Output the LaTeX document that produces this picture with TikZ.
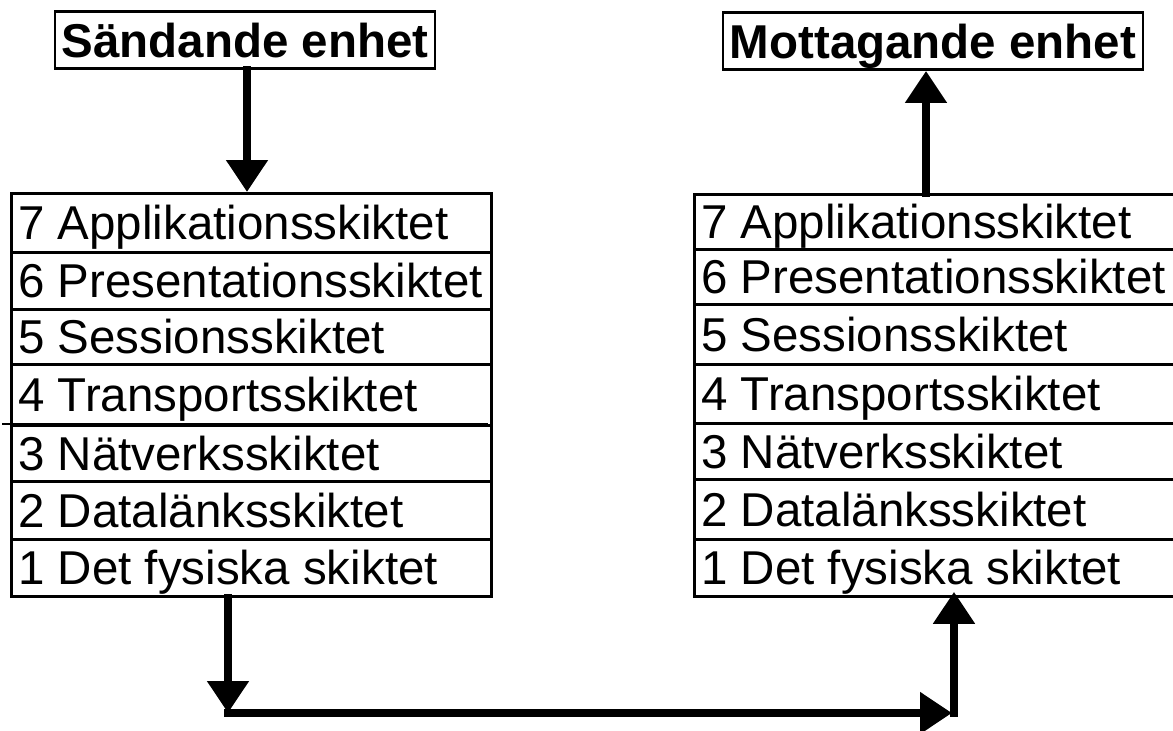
\documentclass[tikz,border=0pt]{standalone}
\usepackage{fontspec}
\setmainfont{Liberation Sans}
\usetikzlibrary{arrows.meta,calc}
\tikzset{
  rowbox/.style={draw, line width=2.8pt, inner sep=0pt, anchor=north west},
  lbl/.style={anchor=west, inner sep=0pt, text height=34pt, text depth=0pt,
    font=\fontsize{47.5}{56}\selectfont},
  title/.style={draw, line width=2.8pt, inner sep=0pt, text height=34pt, text depth=0pt,
    minimum height=57pt, font=\fontsize{47.5}{56}\selectfont\bfseries},
  arr/.style={line width=8pt, line cap=rect, -{Triangle[width=40pt,length=32pt]}},
}
\begin{document}
\begin{tikzpicture}[x=1pt,y=-1pt]
\useasboundingbox (0,0) rectangle (1173,731);

% titles
\node[title, minimum width=380pt] (S) at (245,40) {Sändande enhet};
\node[title, minimum width=420pt] (M) at (933,41) {Mottagande enhet};

% left stack
\foreach \n/\t/\b/\s in {7/192/251/{7 Applikationsskiktet},
                        6/251/308/{6 Presentationsskiktet},
                        5/308/363/{5 Sessionsskiktet},
                        4/363/424/{4 Transportsskiktet},
                        3/424/480/{3 Nätverksskiktet},
                        2/480/538/{2 Datalänksskiktet},
                        1/538/595/{1 Det fysiska skiktet}}{
  \pgfmathsetmacro\h{\b-\t}
  \node[rowbox, minimum width=480pt, minimum height=\h pt] (L\n) at (10,\t) {};
  \node[lbl] (L\n t) at ([xshift=8pt]L\n.west) {\s};
}
% right stack
\foreach \n/\t/\b/\s in {7/193/248/{7 Applikationsskiktet},
                        6/248/303/{6 Presentationsskiktet},
                        5/303/363/{5 Sessionsskiktet},
                        4/363/422/{4 Transportsskiktet},
                        3/422/478/{3 Nätverksskiktet},
                        2/478/538/{2 Datalänksskiktet},
                        1/538/595/{1 Det fysiska skiktet}}{
  \pgfmathsetmacro\h{\b-\t}
  \node[rowbox, minimum width=500pt, minimum height=\h pt] (R\n) at (693,\t) {};
  \node[lbl] (R\n t) at ([xshift=8pt]R\n.west) {\s};
}

% stray separator line on the left
\draw[line width=2.8pt] ([xshift=-8pt]L3.north west) -- ([xshift=-5pt]L3.north east);

% arrows
\draw[arr] (S.south -| 247,0) -- (L7.north -| 247,0);
\coordinate (up) at (926,193);
\draw[arr] (up) -- (up |- M.south);

\coordinate (c1) at (228,713);
\coordinate (c2) at (954,713);
\draw[arr] (L1.south -| c1) -- (c1);
\draw[arr] (c1) -- ([xshift=-2pt]c2);
\draw[arr, shorten >=-6pt] (c2) -- (c2 |- R1.south);
\end{tikzpicture}
\end{document}
